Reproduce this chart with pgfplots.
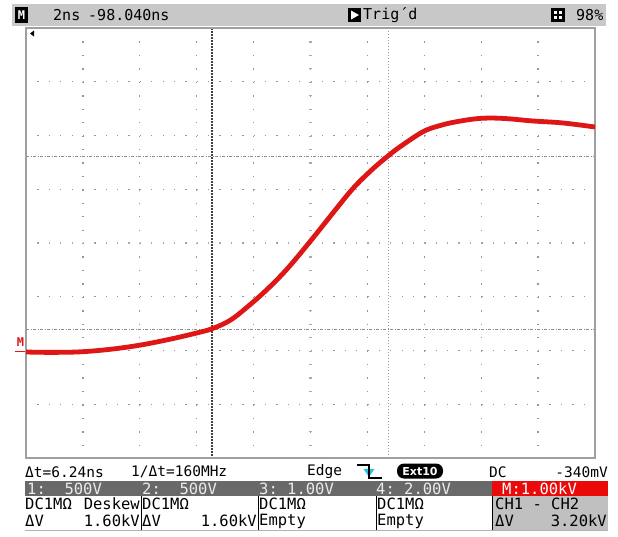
\documentclass[border=0pt]{standalone}
\usepackage{pgfplots}
\pgfplotsset{compat=1.18}
\usepackage{fontspec}
\setmainfont{DejaVu Sans}
\newfontfamily\mono{DejaVu Sans Mono}
\definecolor{tracered}{RGB}{222,22,22}
\definecolor{bargray}{RGB}{200,200,200}
\definecolor{darkbar}{RGB}{105,105,105}
\definecolor{cellgray}{RGB}{192,192,192}
\definecolor{boxred}{RGB}{235,10,10}
\definecolor{gridc}{RGB}{150,150,150}
\definecolor{ticon}{RGB}{30,200,220}
\begin{document}
\begin{tikzpicture}
\begin{scope}[x=1pt,y=-1pt]
\useasboundingbox (0,0) rectangle (618,536);
\fill[white] (0,0) rectangle (618,536);
% ---- top status bar
\fill[bargray] (12,4) rectangle (606,26);
\fill[black] (15,7) rectangle (28,23);
\node[text=white, font=\mono\bfseries\fontsize{12}{12}\selectfont, inner sep=0pt] at (21.5,15) {M};
\node[anchor=west, inner sep=0pt, font=\mono\fontsize{15}{15}\selectfont] at (53,15) {2ns};
\node[anchor=west, inner sep=0pt, font=\mono\fontsize{15}{15}\selectfont] at (88,15) {-98.040ns};
\fill[black] (348,8) rectangle (361,22);
\fill[white] (351,10.5) -- (359,15) -- (351,19.5) -- cycle;
\node[anchor=west, inner sep=0pt, font=\mono\fontsize{15}{15}\selectfont] at (363,15) {Trig´d};
\fill[black] (551,8) rectangle (565,22);
\fill[white] (554,11) rectangle (557,14); \fill[white] (559,11) rectangle (562,14);
\fill[white] (554,16) rectangle (557,19); \fill[white] (559,16) rectangle (562,19);
\node[anchor=west, inner sep=0pt, font=\mono\fontsize{15}{15}\selectfont] at (576,15) {98\%};
% ---- graticule dots
\foreach \k in {1,...,7} {
  \draw[gridc, line width=1.3pt, dash pattern=on 1.3pt off 10.08pt] (26,{28+53.75*\k}) -- (595,{28+53.75*\k});
}
\foreach \j in {1,...,9} {
  \draw[gridc, line width=1.3pt, dash pattern=on 1.3pt off 12.14pt] ({26+56.9*\j},28) -- ({26+56.9*\j},458);
}
\draw[gridc!80, line width=2.4pt, dash pattern=on 1.1pt off 10.28pt] (26,243) -- (595,243);
\draw[gridc!80, line width=2.4pt, dash pattern=on 1.1pt off 12.34pt] (310.5,28) -- (310.5,458);
% ---- cursors
\draw[black!75, line width=1.3pt, dash pattern=on 1.5pt off 1.5pt] (212,28) -- (212,458);
\draw[black!40, line width=1pt, dash pattern=on 1pt off 2pt] (388,28) -- (388,458);
\draw[black!45, line width=1pt, dash pattern=on 3pt off 1.5pt on 1pt off 1.5pt] (26,156) -- (595,156);
\draw[black!45, line width=1pt, dash pattern=on 3pt off 1.5pt on 1pt off 1.5pt] (26,329) -- (595,329);
% ---- markers
\fill[black] (30,33.5) -- (34,30.5) -- (34,36.5) -- cycle;
\node[text=tracered, font=\mono\bfseries\fontsize{12}{12}\selectfont, inner sep=0pt] at (20.5,342) {M};
\draw[tracered, line width=1.6pt] (15,351.5) -- (25,351.5);
\end{scope}
\begin{axis}[at={(26pt,-28pt)}, anchor=north west,
  width=569pt, height=430pt, scale only axis,
  xmin=0, xmax=10, ymin=0, ymax=8,
  xtick=\empty, ytick=\empty,
  axis line style={gray!75, line width=1.3pt}]
\addplot[tracered, line width=4.8pt, smooth, tension=0.6] coordinates {
(0,1.972) (0.422,1.965) (0.949,1.975) (1.476,2.022) (2.004,2.100) (2.531,2.210)
(2.970,2.318) (3.269,2.405) (3.585,2.560) (3.884,2.805) (4.236,3.135) (4.587,3.515)
(4.991,4.025) (5.395,4.560) (5.747,5.015) (6.081,5.365) (6.362,5.619) (6.573,5.790)
(6.977,6.070) (7.276,6.185) (7.575,6.258) (7.979,6.318) (8.383,6.318) (8.910,6.270)
(9.438,6.233) (10,6.158)
};
\end{axis}
\begin{scope}[x=1pt,y=-1pt]
% ---- measurement line
\node[anchor=west, inner sep=0pt, font=\mono\fontsize{14.5}{14.5}\selectfont] at (25,472) {Δt=6.24ns};
\node[anchor=west, inner sep=0pt, font=\mono\fontsize{14.5}{14.5}\selectfont] at (131,472) {1/Δt=160MHz};
\node[anchor=west, inner sep=0pt, font=\mono\fontsize{14.5}{14.5}\selectfont] at (307,472) {Edge};
\fill[ticon] (363.5,469) -- (374.5,469) -- (369,477) -- cycle;
\draw[black, line width=1.2pt] (357,465) -- (369,465) -- (369,478) -- (382,478);
\node[fill=black, text=white, rounded corners=7pt, minimum width=46pt, minimum height=15pt, inner sep=0pt,
  font=\bfseries\fontsize{11}{11}\selectfont] at (420,471) {Ext10};
\node[anchor=west, inner sep=0pt, font=\mono\fontsize{14.5}{14.5}\selectfont] at (489,472) {DC};
\node[anchor=east, inner sep=0pt, font=\mono\fontsize{14.5}{14.5}\selectfont] at (608,472) {-340mV};
% ---- channel bar
\fill[darkbar] (25,481) rectangle (608,496);
\fill[boxred] (492,481) rectangle (608,496);
\foreach \xx/\tt in {27/{1:~~500V}, 142/{2:~~500V}, 259/{3:~1.00V}, 376/{4:~2.00V}} {
  \node[anchor=west, inner sep=0pt, text=white!92!black, font=\mono\fontsize{15.5}{15.5}\selectfont] at (\xx,488.5) {\tt};
}
\node[anchor=west, inner sep=0pt, text=white, font=\mono\fontsize{15.5}{15.5}\selectfont] at (502,488.5) {M:1.00kV};
% ---- cells
\fill[cellgray] (492,496) rectangle (608,530);
\foreach \xx in {141,258,376,492} { \draw[black, line width=0.8pt] (\xx,496) -- (\xx,530); }
\draw[black!30, line width=0.6pt] (25,530.5) -- (608,530.5);
\foreach \xx/\tt in {25/{DC1MΩ}, 142/{DC1MΩ}, 259/{DC1MΩ}, 377/{DC1MΩ}, 495/{CH1 - CH2}} {
  \node[anchor=west, inner sep=0pt, font=\mono\fontsize{15.5}{15.5}\selectfont] at (\xx,504) {\tt};
}
\node[anchor=east, inner sep=0pt, font=\mono\fontsize{15.5}{15.5}\selectfont] at (140,504) {Deskew};
\foreach \xx/\tt in {25/{ΔV}, 142/{ΔV}, 259/{Empty}, 377/{Empty}, 495/{ΔV}} {
  \node[anchor=west, inner sep=0pt, font=\mono\fontsize{15.5}{15.5}\selectfont] at (\xx,521) {\tt};
}
\node[anchor=east, inner sep=0pt, font=\mono\fontsize{15.5}{15.5}\selectfont] at (140,521) {1.60kV};
\node[anchor=east, inner sep=0pt, font=\mono\fontsize{15.5}{15.5}\selectfont] at (257,521) {1.60kV};
\node[anchor=east, inner sep=0pt, font=\mono\fontsize{15.5}{15.5}\selectfont] at (607,521) {3.20kV};
\end{scope}
\end{tikzpicture}
\end{document}
